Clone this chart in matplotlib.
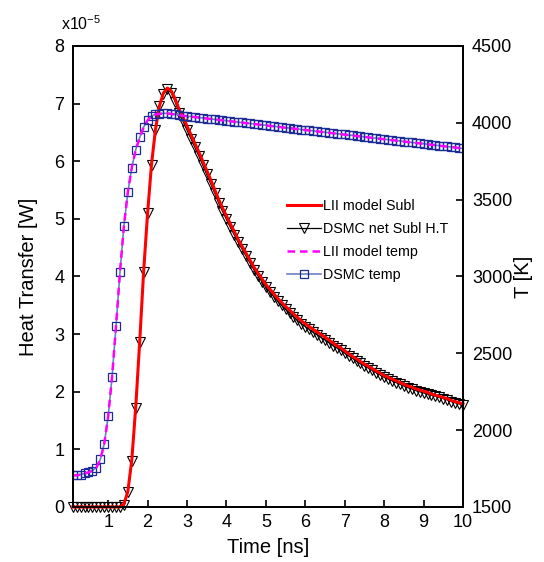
import matplotlib.pyplot as plt
from matplotlib.lines import Line2D

plt.rcParams['font.family'] = ['Liberation Sans', 'DejaVu Sans']
plt.rcParams['mathtext.fontset'] = 'custom'
plt.rcParams['mathtext.rm'] = 'Liberation Sans'
plt.rcParams['mathtext.it'] = 'Liberation Sans'

# time grid, 0.1 ns steps
time_ns = [round(0.1 * i, 1) for i in range(1, 101)]

# sublimation heat transfer, units of 1e-5 W
lii_subl = [
    0, 0, 0, 0, 0, 0, 0, 0, 0, 0,
    0, 0, 0, 0.05, 0.27, 0.82, 1.74, 2.87, 4.09, 5.10,
    5.95, 6.55, 6.96, 7.18, 7.27, 7.22, 7.08, 6.90, 6.76, 6.61,
    6.46, 6.31, 6.16, 6.00, 5.84, 5.68, 5.51, 5.34, 5.19, 5.05,
    4.91, 4.78, 4.64, 4.52, 4.40, 4.28, 4.16, 4.06, 3.96, 3.86,
    3.78, 3.70, 3.62, 3.55, 3.48, 3.42, 3.35, 3.29, 3.23, 3.18,
    3.13, 3.08, 3.04, 2.99, 2.95, 2.90, 2.85, 2.80, 2.76, 2.71,
    2.66, 2.61, 2.57, 2.52, 2.48, 2.44, 2.40, 2.36, 2.32, 2.28,
    2.25, 2.22, 2.19, 2.16, 2.13, 2.10, 2.08, 2.05, 2.03, 2.01,
    1.99, 1.96, 1.94, 1.92, 1.90, 1.88, 1.85, 1.83, 1.81, 1.79,
]
dsmc_subl = [
    0, 0, 0, 0, 0, 0, 0, 0, 0, 0,
    0, 0, 0, 0.04, 0.26, 0.80, 1.72, 2.86, 4.08, 5.10,
    5.94, 6.54, 6.95, 7.17, 7.25, 7.19, 7.03, 6.84, 6.69, 6.54,
    6.39, 6.24, 6.09, 5.93, 5.77, 5.61, 5.45, 5.28, 5.13, 4.99,
    4.85, 4.72, 4.59, 4.47, 4.35, 4.23, 4.11, 4.01, 3.91, 3.81,
    3.73, 3.65, 3.57, 3.50, 3.43, 3.37, 3.30, 3.24, 3.18, 3.13,
    3.08, 3.03, 2.99, 2.94, 2.90, 2.85, 2.80, 2.76, 2.72, 2.67,
    2.62, 2.58, 2.53, 2.49, 2.45, 2.41, 2.37, 2.33, 2.29, 2.25,
    2.22, 2.19, 2.16, 2.13, 2.10, 2.07, 2.05, 2.02, 2.00, 1.98,
    1.96, 1.94, 1.92, 1.90, 1.88, 1.86, 1.83, 1.81, 1.79, 1.77,
]

# particle temperature, K
lii_temp = [
    1706, 1706, 1710, 1718, 1725, 1736, 1755, 1808, 1909, 2089,
    2348, 2681, 3030, 3330, 3551, 3709, 3825, 3904, 3971, 4016,
    4043, 4054, 4058, 4061, 4061, 4058, 4054, 4050, 4046, 4043,
    4040, 4037, 4034, 4031, 4028, 4025, 4022, 4019, 4016, 4013,
    4010, 4007, 4004, 4001, 3998, 3995, 3992, 3989, 3986, 3983,
    3980, 3977, 3974, 3971, 3968, 3965, 3962, 3959, 3956, 3953,
    3950, 3947, 3944, 3941, 3938, 3935, 3932, 3929, 3926, 3923,
    3920, 3917, 3914, 3911, 3908, 3905, 3902, 3899, 3896, 3893,
    3890, 3887, 3884, 3881, 3878, 3875, 3872, 3869, 3866, 3863,
    3860, 3857, 3854, 3851, 3848, 3845, 3842, 3839, 3836, 3833,
]
dsmc_temp = [
    1705, 1707, 1711, 1718, 1726, 1737, 1756, 1809, 1910, 2090,
    2349, 2680, 3030, 3331, 3550, 3709, 3826, 3905, 3972, 4017,
    4044, 4055, 4059, 4062, 4061, 4059, 4055, 4051, 4047, 4043,
    4041, 4038, 4034, 4032, 4028, 4026, 4022, 4020, 4016, 4014,
    4010, 4008, 4004, 4002, 3998, 3996, 3992, 3990, 3986, 3984,
    3980, 3978, 3974, 3972, 3968, 3966, 3962, 3960, 3956, 3954,
    3950, 3948, 3944, 3942, 3938, 3936, 3932, 3930, 3926, 3924,
    3920, 3918, 3914, 3912, 3908, 3906, 3902, 3900, 3896, 3894,
    3890, 3888, 3884, 3882, 3878, 3876, 3872, 3870, 3866, 3864,
    3860, 3858, 3854, 3852, 3848, 3846, 3842, 3840, 3836, 3833,
]

fig = plt.figure(figsize=(5.44, 5.62), dpi=100)
ax = fig.add_axes([0.1336, 0.0979, 0.7175, 0.8203])
ax2 = ax.twinx()

ax.plot(time_ns, dsmc_subl, color='black', lw=0.9, marker='v', ms=6.5,
        mfc='none', mec='black', mew=0.8, clip_on=False, zorder=3)
ax.plot(time_ns, lii_subl, color='red', lw=2.2, clip_on=False, zorder=4)

ax2.plot(time_ns, dsmc_temp, color='#6f7fc4', lw=1.2, marker='s', ms=5.5,
         mfc='none', mec='#1c2c94', mew=0.9)
ax2.plot(time_ns, lii_temp, color='magenta', lw=1.8, ls=(0, (3, 2)))

ax.set_xlim(0.1, 10)
ax.set_ylim(0, 8)
ax2.set_ylim(1500, 4500)
ax.set_xticks(range(1, 11))
ax.set_yticks(range(0, 9))
ax2.set_yticks(range(1500, 4501, 500))

for a in (ax, ax2):
    for s in a.spines.values():
        s.set_linewidth(1.3)
ax.tick_params(direction='in', length=5, width=1.2, labelsize=13, pad=6, top=False, right=False)
ax.tick_params(axis='x', pad=5)
ax2.tick_params(direction='in', length=5, width=1.2, labelsize=13, pad=6.5)

ax.set_xlabel('Time [ns]', fontsize=14.5)
ax.set_ylabel('Heat Transfer [W]', fontsize=14.5)
ax2.set_ylabel('T [K]', fontsize=14.5)
ax.xaxis.set_label_coords(0.5, -0.067)
ax.yaxis.set_label_coords(-0.088, 0.5)
ax2.yaxis.set_label_coords(1.13, 0.5)

fig.text(0.112, 0.946, r'x10$^{-5}$', fontsize=11.5)

handles = [
    Line2D([], [], color='red', lw=2.2),
    Line2D([], [], color='black', lw=0.9, marker='v', ms=6.5, mfc='none', mec='black', mew=0.8),
    Line2D([], [], color='magenta', lw=1.8, ls=(0, (3, 2))),
    Line2D([], [], color='#6f7fc4', lw=1.2, marker='s', ms=5.5, mfc='none', mec='#1c2c94', mew=0.9),
]
labels = ['LII model Subl', 'DSMC net Subl H.T', 'LII model temp', 'DSMC temp']
ax2.legend(handles, labels, loc='upper left', bbox_to_anchor=(0.534, 0.68), frameon=False,
           fontsize=10.3, handlelength=2.4, handletextpad=0.15, labelspacing=0.62,
           borderaxespad=0)

fig.savefig('out.png', dpi=100)
